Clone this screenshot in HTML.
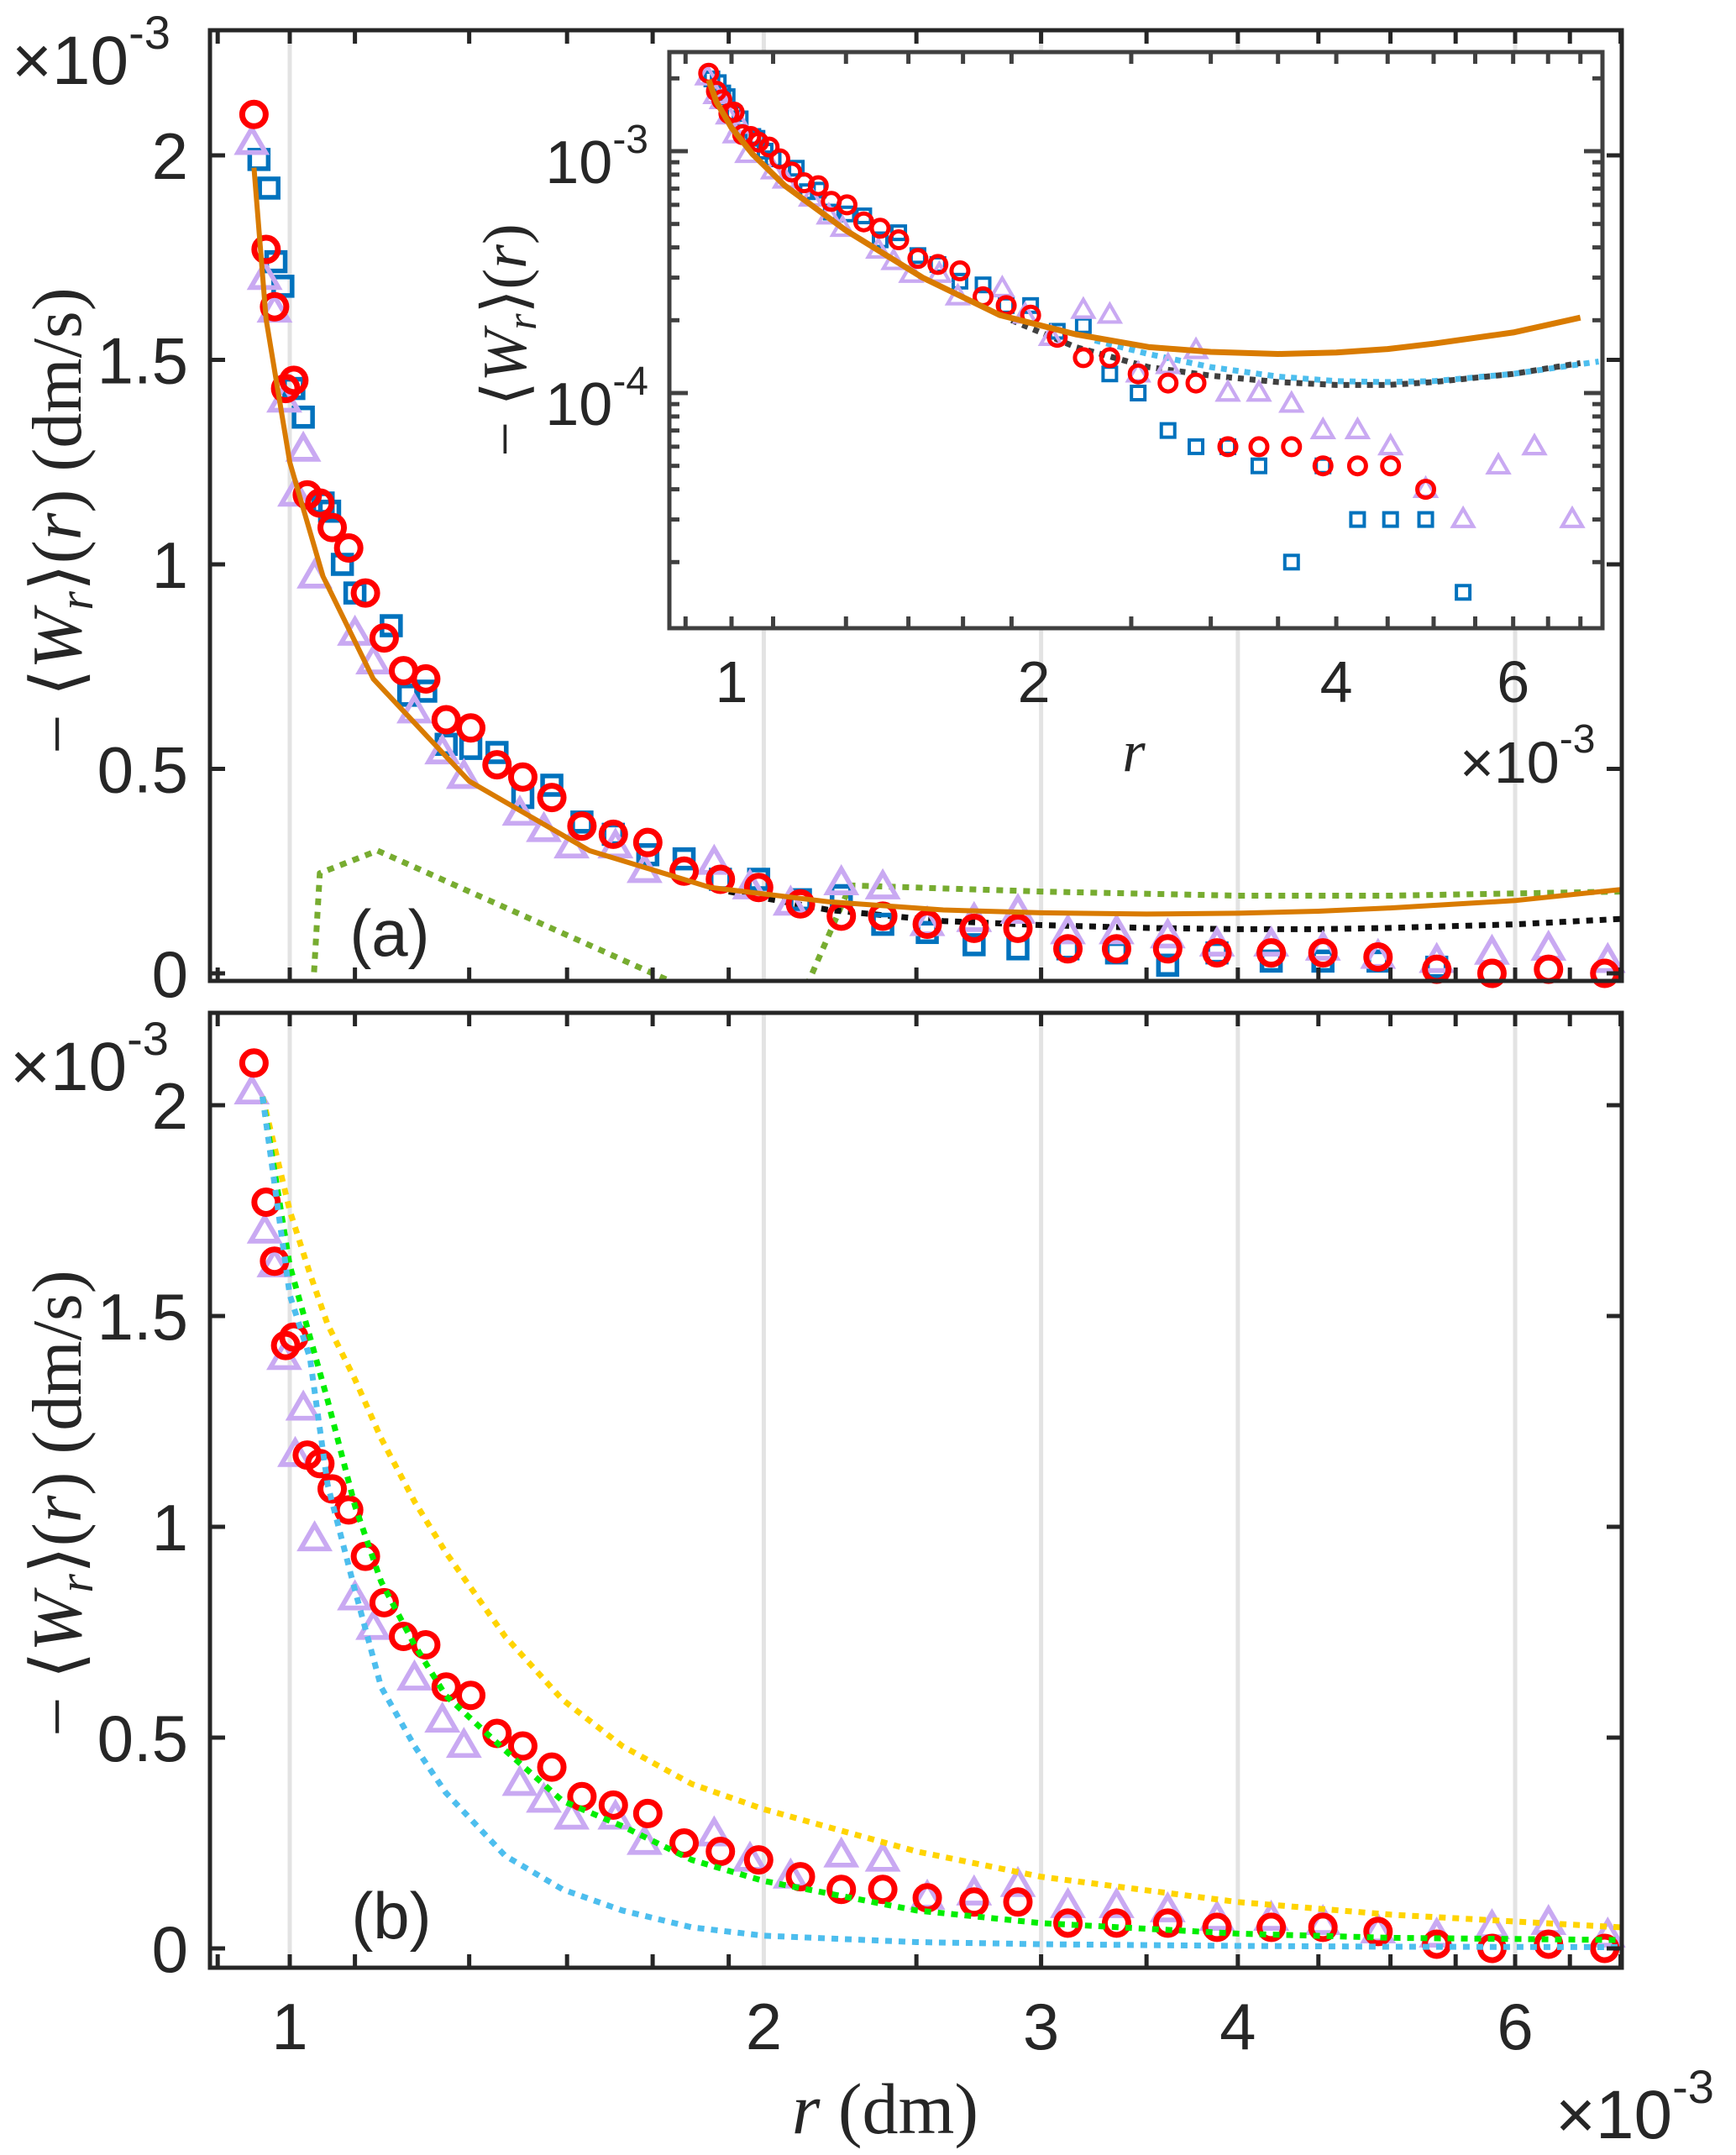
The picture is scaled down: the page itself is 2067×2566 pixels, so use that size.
<!DOCTYPE html>
<html><head><meta charset="utf-8"><style>
html,body{margin:0;padding:0;background:#fff}
svg{display:block}
text{font-family:"Liberation Sans",sans-serif;fill:#262626}
.serif{font-family:"Liberation Serif",serif}
</style></head><body>
<svg id="chart" width="2067" height="2566" viewBox="0 0 2067 2566" xmlns="http://www.w3.org/2000/svg">
<defs>
<clipPath id="clipTop"><rect x="250" y="36" width="1681" height="1132"/></clipPath>
<clipPath id="clipBot"><rect x="250" y="1206" width="1681" height="1137"/></clipPath>
<clipPath id="clipIn"><rect x="797" y="62" width="1111" height="686"/></clipPath>
</defs>
<g id="gTop"></g>
<g id="gBot"></g>
<g id="gIn"></g>
</svg>
<script>
// ---- data (r in 1e-3 dm, values in 1e-3 dm/s) ----
const rCirc = [0.949,0.966,0.978,0.994,1.006,1.026,1.045,1.064,1.09,1.117,1.148,1.181,1.22,1.257,1.303,1.354,1.406,1.467,1.533,1.605,1.688,1.78,1.877,1.985,2.11,2.24,2.38,2.54,2.72,2.90,3.12,3.35,3.61,3.88,4.20,4.53,4.91,5.35,5.80,6.30,6.84];
const vCirc = [2.10,1.77,1.63,1.43,1.45,1.17,1.15,1.09,1.04,0.93,0.82,0.74,0.72,0.62,0.60,0.51,0.48,0.43,0.36,0.34,0.32,0.25,0.23,0.21,0.17,0.14,0.14,0.12,0.11,0.11,0.06,0.06,0.06,0.05,0.05,0.05,0.04,0.01,0.00,0.01,0.00];
const rTri = [0.946,0.964,0.978,0.992,1.02,1.008,1.037,1.10,1.13,1.20,1.25,1.29,1.40,1.45,1.51,1.61,1.68,1.86,1.96,2.08,2.24,2.38,2.54,2.72,2.90,3.12,3.35,3.61,3.88,4.20,4.53,4.91,5.35,5.80,6.30,6.87];
const vTri = [2.03,1.70,1.62,1.40,1.28,1.17,0.97,0.83,0.76,0.64,0.54,0.48,0.39,0.35,0.31,0.31,0.25,0.27,0.21,0.17,0.22,0.21,0.12,0.13,0.15,0.10,0.10,0.09,0.07,0.07,0.06,0.04,0.03,0.05,0.06,0.03];
const rSq = [0.956,0.970,0.980,0.990,1.006,1.020,1.050,1.060,1.080,1.100,1.160,1.190,1.220,1.257,1.303,1.354,1.406,1.467,1.533,1.605,1.688,1.78,1.877,1.985,2.11,2.24,2.38,2.54,2.72,2.90,3.12,3.35,3.61,3.88,4.20,4.53,4.91,5.35];
const vSq = [1.99,1.92,1.74,1.68,1.43,1.36,1.15,1.13,1.00,0.93,0.85,0.68,0.69,0.56,0.55,0.54,0.43,0.46,0.37,0.34,0.29,0.28,0.23,0.23,0.18,0.19,0.12,0.10,0.07,0.06,0.06,0.05,0.02,0.05,0.03,0.03,0.03,0.015];
const rOrange = [0.949,0.966,1.00,1.05,1.13,1.30,1.55,1.85,2.2,2.6,3.0,3.5,4.0,4.5,5.0,6.0,7.0];
const vOrange = [1.97,1.60,1.25,0.97,0.72,0.47,0.30,0.21,0.175,0.155,0.148,0.145,0.147,0.152,0.160,0.178,0.205];
const rBlack = [1.9,2.2,2.6,3.0,3.5,4.0,4.5,5.0,6.0,7.0];
const vBlack = [0.20,0.155,0.128,0.118,0.111,0.108,0.108,0.111,0.12,0.133];
const rCyanIn = [2.3,2.6,3.0,3.5,4.0,4.5,5.0,6.0,7.3];
const vCyanIn = [0.165,0.145,0.128,0.117,0.112,0.111,0.112,0.12,0.135];
const rGreenA1 = [1.035,1.045,1.137,1.77];
const vGreenA1 = [-0.03,0.245,0.30,-0.03];
const rGreenA2 = [2.13,2.27,3.0,4.0,5.0,7.0];
const vGreenA2 = [-0.03,0.215,0.20,0.19,0.19,0.20];
const rModel = [0.961,1.0,1.03,1.057,1.1,1.143,1.2,1.256,1.37,1.49,1.626,1.8,2.0,2.5,3.0,4.0,5.0,7.0];
const vYellow = [2.02,1.75,1.60,1.48,1.35,1.21,1.06,0.94,0.74,0.59,0.48,0.39,0.33,0.23,0.17,0.11,0.08,0.05];
const vGreen  = [2.02,1.62,1.45,1.30,1.05,0.87,0.72,0.60,0.47,0.35,0.29,0.21,0.16,0.09,0.06,0.035,0.025,0.02];
const vCyan   = [2.02,1.55,1.40,1.10,0.85,0.62,0.48,0.37,0.22,0.14,0.09,0.05,0.03,0.015,0.01,0.006,0.004,0.003];
const xTickVals = [1,2,3,4,6];
const inXTickVals = [1,2,4,6];

// ---- axes ----
const lg = Math.log10;
const mainX = r => 345 + 1875*lg(r);
const topY = v => 1159 - v*487;
const botY = v => 2320 - v*502;
const inX = r => 871 + 1196*lg(r);
const inY = v => 180 - 288*lg(v);
const NS = 'http://www.w3.org/2000/svg';
function mk(parent, tag, attrs){const e=document.createElementNS(NS,tag);for(const k in attrs)e.setAttribute(k,attrs[k]);parent.appendChild(e);return e;}
const gTop=document.getElementById('gTop'), gBot=document.getElementById('gBot'), gIn=document.getElementById('gIn');

function grid(g, xf, y0, y1, vals){
  vals.forEach(v=>{const l=mk(g,'line',{x1:xf(v),x2:xf(v),y1:y0,y2:y1,stroke:'#e3e3e3','stroke-width':5});
   });
}
function xMinorTicks(g,xf,yb,yt,lo,hi,len){
  const t=[];for(let v=0.9;v<=2.001;v+=0.2)t.push(v);for(let v=2.5;v<=7.01;v+=0.5)t.push(v);t.push(1);
  t.forEach(v=>{if(v<lo||v>hi)return;const x=xf(v);
    let a=mk(g,'line',{x1:x,x2:x,y1:yb,y2:yb-len,stroke:'#262626','stroke-width':5});
    
    let b=mk(g,'line',{x1:x,x2:x,y1:yt,y2:yt+len,stroke:'#262626','stroke-width':5});
    });
}
function line(g, rs, vs, xf, yf, color, w, dash, clip, name){
  const pts=rs.map((r,i)=>xf(r).toFixed(1)+','+yf(vs[i]).toFixed(1)).join(' ');
  const p=mk(g,'polyline',{points:pts,fill:'none',stroke:color,'stroke-width':w,'clip-path':'url(#'+clip+')','stroke-linejoin':'round'});
  if(dash)p.setAttribute('stroke-dasharray',dash);
   
}
function markers(g, rs, vs, xf, yf, type, s, name, filt){
  rs.forEach((r,i)=>{const v=vs[i]; if(filt && !filt(r,v))return; const x=xf(r), y=yf(v); let e;
    if(type==='o') e=mk(g,'circle',{cx:x,cy:y,r:s,fill:'none',stroke:'#ff0000','stroke-width':s*0.5});
    else if(type==='s') e=mk(g,'rect',{x:x-s,y:y-s,width:2*s,height:2*s,fill:'none',stroke:'#0072bd','stroke-width':s*0.5});
    else e=mk(g,'polygon',{points:`${x},${y-s*1.15} ${x-s*1.1},${y+s*0.75} ${x+s*1.1},${y+s*0.75}`,fill:'none',stroke:'#c9a9f2','stroke-width':s*0.38,'stroke-linejoin':'miter'});
     });
}
function txt(g,x,y,s,size,anchor,name,cls){const t=mk(g,'text',{x:x,y:y,'font-size':size,'text-anchor':anchor||'middle'});if(cls)t.setAttribute('class',cls);t.innerHTML=s;
  return t;}
function box(g,x,y,w,h,sw,name,fill){const b=mk(g,'rect',{x:x,y:y,width:w,height:h,fill:fill||'none',stroke:'#262626','stroke-width':sw});
  return b;}
function yTicks(g, yf, vals, labels, lx, name){
  vals.forEach((v,i)=>{const y=yf(v);
    let a=mk(g,'line',{x1:250,x2:268,y1:y,y2:y,stroke:'#262626','stroke-width':5});
    let b=mk(g,'line',{x1:1931,x2:1913,y1:y,y2:y,stroke:'#262626','stroke-width':5});
    txt(g,lx,y+28,labels[i],78,'end',name);});
}
const yVals=[0,0.5,1,1.5,2], yLabs=['0','0.5','1','1.5','2'];
const ylabel='− ⟨<tspan font-style="italic">W</tspan><tspan font-style="italic" font-size="58" dy="14">r</tspan><tspan dy="-14">⟩(</tspan><tspan font-style="italic">r</tspan>)  (dm/s)';

// ---- panel a ----
grid(gTop, mainX, 36, 1168, xTickVals);
line(gTop, rGreenA1, vGreenA1, mainX, topY, '#77ac30', 7, '8 8', 'clipTop', 'model-green-dotted-a');
line(gTop, rGreenA2, vGreenA2, mainX, topY, '#77ac30', 7, '8 8', 'clipTop', 'model-green-dotted-b');
line(gTop, rBlack, vBlack, mainX, topY, '#111', 7, '8 8', 'clipTop', 'model-black-dotted');
markers(gTop, rSq, vSq, mainX, topY, 's', 11, 'square-marker');
markers(gTop, rTri, vTri, mainX, topY, 't', 15, 'triangle-marker');
markers(gTop, rCirc, vCirc, mainX, topY, 'o', 14, 'circle-marker');
line(gTop, rOrange, vOrange, mainX, topY, '#d97b00', 6, null, 'clipTop', 'model-orange-solid');
box(gTop,250,36,1681,1132,5,'panel-a-axes-box');
xMinorTicks(gTop, mainX, 1168, 36, 0.89, 7.0, 16);
yTicks(gTop, topY, yVals, yLabs, 224, 'y-tick-label');
txt(gTop,464,1138,'(a)',78,'middle','panel-a-label');
txt(gTop,14,100,'×10<tspan font-size="56" dy="-42">-3</tspan>',82,'start','y-exponent-label');
const yl1=txt(gTop,0,0,ylabel,84,'middle','y-axis-title','serif'); yl1.setAttribute('transform','translate(96,620) rotate(-90)');

// ---- inset ----
box(gIn,797,62,1111,686,5,'inset-axes-box','#fff').setAttribute('stroke','#404040');
line(gIn, rCyanIn, vCyanIn, inX, inY, '#4dbeee', 7, '7 7', 'clipIn', 'inset-cyan-dotted');
line(gIn, rBlack, vBlack, inX, inY, '#404040', 7, '7 7', 'clipIn', 'inset-black-dotted');
markers(gIn, rSq, vSq, inX, inY, 's', 8, 'inset-square-marker', (r,v)=>v>0);
markers(gIn, rTri, vTri, inX, inY, 't', 11, 'inset-triangle-marker', (r,v)=>v>0);
markers(gIn, rCirc, vCirc, inX, inY, 'o', 10, 'inset-circle-marker', (r,v)=>v>0.02&&r<5.1);
line(gIn, rOrange, vOrange, inX, inY, '#d97b00', 7, null, 'clipIn', 'inset-orange-solid');
(function(){
  const tk=[];for(let v=0.9;v<=2.001;v+=0.2)tk.push(v);for(let v=2.5;v<=7.3;v+=0.5)tk.push(v);tk.push(1);
  tk.forEach(v=>{const x=inX(v);
    let a=mk(gIn,'line',{x1:x,x2:x,y1:748,y2:734,stroke:'#404040','stroke-width':5});
    let b=mk(gIn,'line',{x1:x,x2:x,y1:62,y2:76,stroke:'#404040','stroke-width':5});});
  const yt=[];for(let m=2;m<=9;m++)yt.push(m*0.01);for(let m=1;m<=3;m++)for(let k=1;k<=9;k++){const v=k*Math.pow(10,m-2);if(v<=2.6)yt.push(v);}
  yt.forEach(v=>{const y=inY(v);if(y<62||y>748)return;const major=(v===0.1||v===1);
    let a=mk(gIn,'line',{x1:797,x2:797+(major?22:12),y1:y,y2:y,stroke:'#404040','stroke-width':5});
    let b=mk(gIn,'line',{x1:1908,x2:1908-(major?22:12),y1:y,y2:y,stroke:'#404040','stroke-width':5});});
})();
inXTickVals.forEach(v=>txt(gIn,inX(v),836,String(v),70,'middle','inset-x-tick-label'));
txt(gIn,772,218,'10<tspan font-size="48" dy="-36">-3</tspan>',72,'end','inset-y-tick-label');
txt(gIn,772,506,'10<tspan font-size="48" dy="-36">-4</tspan>',72,'end','inset-y-tick-label');
txt(gIn,1350,918,'<tspan font-style="italic">r</tspan>',70,'middle','inset-x-axis-title','serif');
txt(gIn,1738,932,'×10<tspan font-size="48" dy="-36">-3</tspan>',70,'start','inset-x-exponent');
const yl2=txt(gIn,0,0,'− ⟨<tspan font-style="italic">W</tspan><tspan font-style="italic" font-size="50" dy="12">r</tspan><tspan dy="-12">⟩(</tspan><tspan font-style="italic">r</tspan>)',74,'middle','inset-y-axis-title','serif');
yl2.setAttribute('transform','translate(626,405) rotate(-90)');

// ---- panel b ----
grid(gBot, mainX, 1206, 2343, xTickVals);
markers(gBot, rTri, vTri, mainX, botY, 't', 15, 'triangle-marker-b');
markers(gBot, rCirc, vCirc, mainX, botY, 'o', 14, 'circle-marker-b');
line(gBot, rModel, vYellow, mainX, botY, '#ffd400', 7, '8 8', 'clipBot', 'model-yellow-dotted');
line(gBot, rModel, vGreen, mainX, botY, '#00ee00', 7, '8 8', 'clipBot', 'model-green-dotted');
line(gBot, rModel, vCyan, mainX, botY, '#4dbeee', 7, '8 8', 'clipBot', 'model-cyan-dotted');
box(gBot,250,1206,1681,1137,5,'panel-b-axes-box');
xMinorTicks(gBot, mainX, 2343, 1206, 0.89, 7.0, 16);
yTicks(gBot, botY, yVals, yLabs, 224, 'y-tick-label-b');
txt(gBot,466,2308,'(b)',78,'middle','panel-b-label');
txt(gBot,12,1298,'×10<tspan font-size="56" dy="-42">-3</tspan>',82,'start','y-exponent-label-b');
const yl3=txt(gBot,0,0,ylabel,84,'middle','y-axis-title-b','serif'); yl3.setAttribute('transform','translate(96,1790) rotate(-90)');
xTickVals.forEach(v=>txt(gBot,mainX(v),2440,String(v),78,'middle','x-tick-label'));
txt(gBot,1054,2540,'<tspan font-style="italic">r</tspan>  (dm)',86,'middle','x-axis-title','serif');
txt(gBot,1852,2546,'×10<tspan font-size="56" dy="-42">-3</tspan>',82,'start','x-exponent-label');
</script>
</body></html>
